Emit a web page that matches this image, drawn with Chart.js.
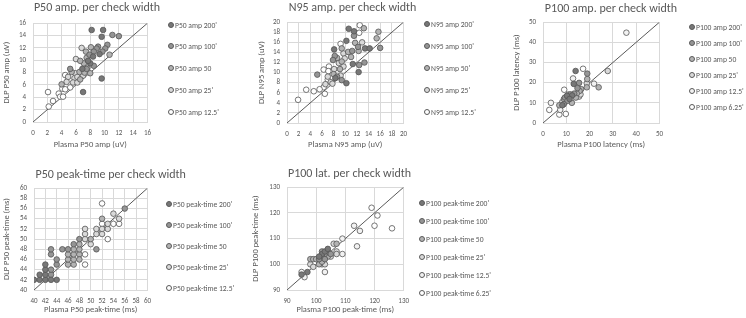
<!DOCTYPE html>
<html>
<head>
<meta charset="utf-8">
<title>DLP vs Plasma per check width</title>
<script src="https://cdn.jsdelivr.net/npm/chart.js"></script>
<style>
    body { margin: 0; width: 746px; height: 318px; background: #fff; overflow: hidden; position: relative; font-family: Carlito, Calibri, sans-serif; }
    .box { position: absolute; }
    .ttl { position: absolute; font-size: 12px; line-height: 14px; color: #595959; white-space: nowrap; transform: translateX(-50%); }
    .lg { position: absolute; font-size: 7.6px; color: #595959; white-space: nowrap; line-height: 10px; }
    .lg i { display: inline-block; width: 4px; height: 4px; border: 1px solid #595959; border-radius: 50%; vertical-align: middle; margin: -2px 1px 0 0; }
</style>
</head>
<body>
<script>
    // values: [plasma, dlp]
    const p50ampNames = ["P50 amp 200'", "P50 amp 100'", "P50 amp 50", "P50 amp 25'", "P50 amp 12.5'"];
    const p50amp200 = [[8.2,14.9],[9.8,14.9],[9.6,13.8],[7.0,4.85],[9.6,7.05],[8.4,10.6],[9.3,11.0],[8.0,9.5],[7.7,9.9],[6.9,8.6]];
    const p50amp100 = [[11.1,14.1],[12.0,13.9],[10.4,12.5],[9.1,12.2],[8.9,11.9],[10.1,11.9],[8.5,11.4],[9.7,11.4],[7.9,10.9],[8.5,9.1],[5.2,8.6],[7.5,8.6]];
    const p50amp50 = [[10.7,10.9],[8.1,12.1],[7.4,11.4],[7.5,10.4],[7.1,9.5],[6.6,9.9],[6.5,8.1],[7.2,8.0],[8.0,7.9],[5.4,8.1],[4.0,6.1],[6.6,6.9]];
    const p50amp25 = [[6.8,12.0],[6.0,10.2],[5.9,7.9],[4.9,7.3],[5.8,7.1],[5.6,6.4],[6.2,6.4],[7.0,7.5],[7.6,8.8],[6.2,7.3],[4.7,6.5]];
    const p50amp12 = [[4.5,7.6],[5.2,5.6],[4.1,5.4],[4.5,5.3],[3.6,4.6],[3.8,4.1],[4.2,4.1],[2.1,4.85],[2.8,3.4],[2.2,2.5]];

    const n95ampNames = ["N95 amp 200'", "N95 amp 100'", "N95 amp 50'", "N95 amp 25'", "N95 amp 12.5'"];
    const n95amp200 = [[10.6,18.7],[11.5,18.2],[10.2,16.3],[13.4,14.8],[14.2,14.8],[8.1,14.6],[11.3,11.7],[12.3,10.1],[10.2,7.9],[8.3,8.9]];
    const n95amp100 = [[11.5,17.3],[12.2,15.1],[11.2,14.3],[8.2,13.3],[7.9,12.5],[12.4,11.5],[5.2,9.6],[9.4,8.5],[8.6,9.2],[13.3,12.0],[16.0,14.9]];
    const n95amp50 = [[13.2,18.8],[15.7,18.1],[15.4,16.8],[11.7,15.9],[12.3,14.3],[10.5,14.1],[9.4,14.8],[8.6,12.9],[11.0,13.1],[9.4,12.2],[9.1,10.7],[8.0,9.7]];
    const n95amp25 = [[12.9,16.0],[9.7,13.8],[9.9,12.8],[8.9,11.9],[8.1,10.7],[9.7,11.2],[9.2,9.4],[7.5,8.1],[7.8,7.8],[6.6,7.7],[7.0,9.2]];
    const n95amp12 = [[12.5,19.4],[12.4,17.9],[9.2,15.7],[7.2,11.2],[6.3,10.6],[7.1,10.3],[7.0,8.6],[6.3,7.1],[5.6,6.7],[4.6,6.3],[3.3,6.6],[6.5,5.8],[1.9,4.6]];

    const p100ampNames = ["P100 amp 200'", "P100 amp 100'", "P100 amp 50", "P100 amp 25'", "P100 amp 12.5'", "P100 amp 6.25'"];
    const p100amp200 = [[14.0,25.8],[13.2,19.4],[12.5,13.7],[10.3,13.5],[8.3,8.8],[11.4,11.9]];
    const p100amp100 = [[19.0,24.5],[15.5,19.9],[14.8,17.3],[13.4,14.6],[11.7,14.2],[9.4,12.6],[10.5,11.0],[8.9,9.3]];
    const p100amp50 = [[19.0,21.8],[18.8,17.7],[23.9,17.7],[16.4,16.8],[15.7,15.9],[14.5,14.6],[14.1,12.6],[9.0,11.9],[12.4,10.0],[7.0,8.8]];
    const p100amp25 = [[27.8,25.8],[18.8,19.7],[15.5,13.1],[16.1,14.2],[10.8,14.1],[9.4,10.3],[8.3,10.4]];
    const p100amp12 = [[35.8,44.8],[21.9,19.5],[12.9,22.1],[7.4,6.5],[3.4,10.0]];
    const p100amp6 = [[17.2,26.9],[9.1,16.5],[2.7,6.5],[7.0,4.2],[9.8,4.5]];

    const p50ptNames = ["P50 peak-time 200'", "P50 peak-time 100'", "P50 peak-time 50", "P50 peak-time 25'", "P50 peak-time 12.5'"];
    const p50pt200 = [[40,42],[41,42],[42,42],[41,43],[42,43],[42,44],[42,45],[44,42],[43,42]];
    const p50pt100 = [[43,43],[43,44],[43,47],[43,48],[44,45],[44,46],[45,48],[46,48],[47,49],[48,50],[56,56],[51,48]];
    const p50pt50 = [[46,45],[46,46],[47,45],[47,46],[46,47],[47,47],[48,47],[48,46],[47,48],[48,48],[48,49],[50,50],[52,54]];
    const p50pt25 = [[49,50],[49,51],[49,52],[50,49],[51,51],[51,52],[52,51],[52,52],[53,52],[53,53],[54,55],[55,54]];
    const p50pt12 = [[52,57],[54,53],[55,53],[52,53],[53,50],[49,47],[49,45]];

    const p100ptNames = ["P100 peak-time 200'", "P100 peak-time 100'", "P100 peak-time 50", "P100 peak-time 25'", "P100 peak-time 12.5'", "P100 peak-time 6.25'"];
    const p100pt200 = [[95,96],[97,97],[102,104],[103,105],[104,106],[101,103]];
    const p100pt100 = [[102,105],[103,104],[104,105],[105,104],[102,103],[101,102],[103,102]];
    const p100pt50 = [[98,102],[99,102],[100,102],[101,100],[102,101],[103,103],[104,103],[107,108]];
    const p100pt25 = [[106,108],[105,103],[107,105],[107,104],[102,100],[103,100],[98,100],[99,99]];
    const p100pt12 = [[109,110],[109,104],[113,115],[115,113],[114,107],[103,97],[95,97],[96,95],[101,101]];
    const p100pt6 = [[119,122],[121,119],[120,115],[126,114],[102,102]];

    // y = x reference lines
    const diagP50amp = [[0,0],[16,16]];
    const diagN95amp = [[0,0],[20,20]];
    const diagP100amp = [[0,0],[50,50]];
    const diagP50pt = [[40,40],[60,60]];
    const diagP100pt = [[90,90],[130,130]];

    const shades5 = ['#777777', '#959595', '#b3b3b3', '#d9d9d9', '#ffffff'];
    const shades6 = ['#777777', '#959595', '#b3b3b3', '#d9d9d9', '#f2f2f2', '#ffffff'];

    const panels = [
        { title: 'P50 amp. per check width', xTitle: 'Plasma P50 amp (uV)', yTitle: 'DLP P50 amp (uV)',
          names: p50ampNames, series: [p50amp200, p50amp100, p50amp50, p50amp25, p50amp12], colors: shades5,
          diag: diagP50amp, min: 0, max: 16, step: 2,
          left: 2, titleCX: 97, titleCY: 7, plot: [33, 16, 154, 122], xTitleCY: 145,
          legX: 171, legY: [26, 47, 69, 91, 113] },
        { title: 'N95 amp. per check width', xTitle: 'Plasma N95 amp (uV)', yTitle: 'DLP N95 amp (uV)',
          names: n95ampNames, series: [n95amp200, n95amp100, n95amp50, n95amp25, n95amp12], colors: shades5,
          diag: diagN95amp, min: 0, max: 20, step: 2,
          left: 257, titleCX: 352.5, titleCY: 7.5, plot: [287, 15, 410, 123], xTitleCY: 145,
          legX: 427, legY: [25, 47, 69, 91, 113] },
        { title: 'P100 amp. per check width', xTitle: 'Plasma P100 latency (ms)', yTitle: 'DLP P100 latency (ms)',
          names: p100ampNames, series: [p100amp200, p100amp100, p100amp50, p100amp25, p100amp12, p100amp6], colors: shades6,
          diag: diagP100amp, min: 0, max: 50, step: 10,
          left: 512, titleCX: 611, titleCY: 8, plot: [543, 15, 666, 123], xTitleCY: 145,
          legX: 692, legY: [28, 44, 60, 76, 92, 108] },
        { title: 'P50 peak-time per check width', xTitle: 'Plasma P50 peak-time (ms)', yTitle: 'DLP P50 peak-time (ms)',
          names: p50ptNames, series: [p50pt200, p50pt100, p50pt50, p50pt25, p50pt12], colors: shades5,
          diag: diagP50pt, min: 40, max: 60, step: 2,
          left: 2, titleCX: 110.7, titleCY: 174.5, plot: [34, 181, 154, 290], xTitleCY: 310,
          legX: 169, legY: [205, 226, 247, 268, 289] },
        { title: 'P100 lat. per check width', xTitle: 'Plasma P100 peak-time (ms)', yTitle: 'DLP P100 peak-time (ms)',
          names: p100ptNames, series: [p100pt200, p100pt100, p100pt50, p100pt25, p100pt12, p100pt6], colors: shades6,
          diag: diagP100pt, min: 90, max: 130, step: 10,
          left: 251, titleCX: 349.5, titleCY: 173, plot: [287, 180, 412, 290], xTitleCY: 310,
          legX: 422, legY: [204, 222, 240, 258, 276, 294] }
    ];

    const txt = '#595959';
    const grid = '#d9d9d9';
    const fam = 'Carlito, Calibri, sans-serif';
    const titleSize = 8.5;

    function axis(p, title, fit) {
        return {
            type: 'linear', min: p.min, max: p.max,
            ticks: { stepSize: p.step, autoSkip: false, maxRotation: 0, color: txt, font: { family: fam, size: 7 }, padding: 7 },
            grid: { color: grid, drawTicks: false },
            border: { color: grid },
            title: { display: true, text: title, color: txt, font: { family: fam, size: titleSize, lineHeight: 1.2 }, padding: 0 },
            afterFit: fit
        };
    }

    panels.forEach(function(p) {
        const [pl, pt, pr, pb] = p.plot;
        const top = pt - 4;
        const w = pr - p.left + 4;
        const bottom = Math.round(p.xTitleCY + titleSize * 0.6);

        const box = document.createElement('div');
        box.className = 'box';
        box.style.left = p.left + 'px';
        box.style.top = top + 'px';
        box.style.width = w + 'px';
        box.style.height = (bottom - top) + 'px';
        const cv = document.createElement('canvas');
        box.appendChild(cv);
        document.body.appendChild(box);

        const t = document.createElement('div');
        t.className = 'ttl';
        t.style.left = p.titleCX + 'px';
        t.style.top = (p.titleCY - 7.3) + 'px';
        t.textContent = p.title;
        document.body.appendChild(t);

        const datasets = p.series.map((pts, i) => ({
            label: p.names[i],
            data: pts.map(d => ({ x: d[0], y: d[1] })),
            backgroundColor: p.colors[i],
            borderColor: '#555555',
            borderWidth: 0.8,
            pointRadius: 2.8,
            order: 1
        }));
        datasets.push({
            type: 'line',
            label: 'y=x',
            data: p.diag.map(d => ({ x: d[0], y: d[1] })),
            borderColor: '#595959',
            borderWidth: 1,
            pointRadius: 0,
            order: 2
        });

        new Chart(cv, {
            type: 'scatter',
            data: { datasets: datasets },
            options: {
                responsive: true,
                maintainAspectRatio: false,
                animation: false,
                layout: { padding: { left: 0, top: 4, right: 4, bottom: 0 } },
                plugins: {
                    legend: { display: false },
                    tooltip: { enabled: false },
                    title: { display: false }
                },
                scales: {
                    x: axis(p, p.xTitle, s => { s.height = bottom - pb; }),
                    y: axis(p, p.yTitle, s => { s.width = pl - p.left; })
                }
            }
        });

        // legend, same names and colours as the datasets
        p.names.forEach(function(name, i) {
            const d = document.createElement('div');
            d.className = 'lg';
            d.style.left = (p.legX - 3) + 'px';
            d.style.top = (p.legY[i] - 5) + 'px';
            d.innerHTML = '<i style="background:' + p.colors[i] + '"></i>' + name;
            document.body.appendChild(d);
        });
    });
</script>
</body>
</html>
